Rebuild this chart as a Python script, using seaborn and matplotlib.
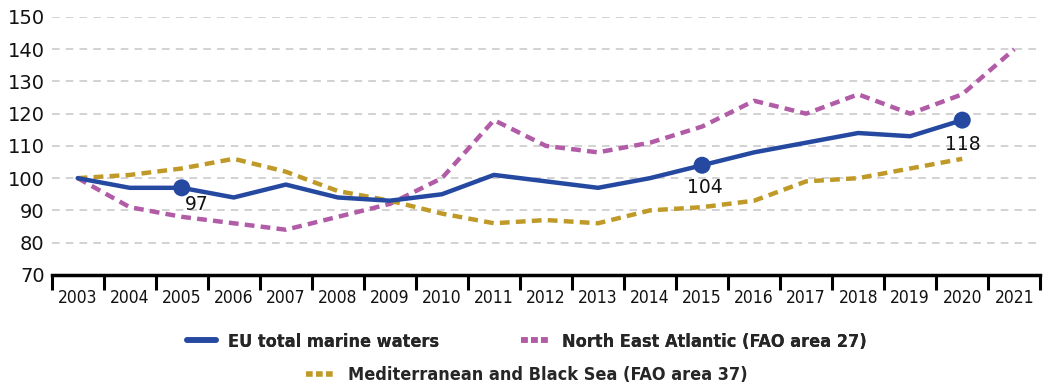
import numpy as np
import pandas as pd
import matplotlib
matplotlib.use("Agg")
import matplotlib.pyplot as plt
import seaborn as sns
from matplotlib.lines import Line2D

years = list(range(2003, 2022))
eu_total = [100, 97, 97, 94, 98, 94, 93, 95, 101, 99, 97, 100, 104, 108, 111, 114, 113, 118]
north_east_atlantic = [100, 91, 88, 86, 84, 88, 92, 100, 118, 110, 108, 111, 116, 124, 120, 126, 120, 126, 140]
med_black_sea = [100, 101, 103, 106, 102, 96, 93, 89, 86, 87, 86, 90, 91, 93, 99, 100, 103, 106]
labelled_years = [2005, 2015, 2020]

names = ["EU total marine waters", "North East Atlantic (FAO area 27)",
         "Mediterranean and Black Sea (FAO area 37)"]
colors = ["#2549a0", "#b25ca7", "#c09a28"]

sns.set_theme(style="white")
plt.rcParams['font.family'] = ['DejaVu Sans']

fig = plt.figure(figsize=(10.54, 3.86), dpi=100)
ax = fig.add_axes([0.049, 0.288, 0.938, 0.668])

# categorical positions
pos = {y: i for i, y in enumerate(years)}

def frame(vals):
    return pd.DataFrame({"x": [pos[y] for y in years[:len(vals)]], "v": vals})

sns.lineplot(data=frame(north_east_atlantic), x="x", y="v", ax=ax, color=colors[1],
             lw=3.2, zorder=2)
ax.lines[-1].set_dashes([2.2, 1.4])
sns.lineplot(data=frame(med_black_sea), x="x", y="v", ax=ax, color=colors[2],
             lw=3.2, zorder=2)
ax.lines[-1].set_dashes([2.2, 1.4])
sns.lineplot(data=frame(eu_total), x="x", y="v", ax=ax, color=colors[0],
             lw=3.2, zorder=3)

eu_df = frame(eu_total)
eu_df["year"] = years[:len(eu_total)]
pts = eu_df[eu_df["year"].isin(labelled_years)]
sns.scatterplot(data=pts, x="x", y="v", ax=ax, color=colors[0], s=150,
                edgecolor="none", zorder=4)
offsets = {2005: (0.28, -5.3), 2015: (0.05, -7), 2020: (0.02, -7.5)}
for _, r in pts.iterrows():
    dx, dy = offsets[int(r["year"])]
    ax.text(r["x"] + dx, r["v"] + dy, f"{int(r['v'])}", ha="center", va="center",
            fontsize=13.5, color="#111111", zorder=5)

ax.set_xlim(-0.5, len(years) - 0.5)
ax.set_ylim(70, 150)
ax.set_yticks(range(70, 151, 10))
ax.set_xticks(range(len(years)))
ax.set_xticklabels([str(y) for y in years], fontsize=12.5, fontstretch="condensed")
ax.set_xticks(np.arange(-0.5, len(years), 1.0), minor=True)
ax.tick_params(axis="x", which="major", bottom=False, length=0, pad=10, colors="#111111")
ax.tick_params(axis="x", which="minor", bottom=True, length=10.5, width=2.2,
               color="black", direction="out")
ax.tick_params(axis="y", length=0, labelsize=14, pad=5, colors="#111111")
ax.set_xlabel("")
ax.set_ylabel("")

for y in range(80, 151, 10):
    ax.axhline(y, color="#c6c6c6", lw=1.1, ls=(0, (5, 4)), zorder=1)

for s in ["top", "right", "left"]:
    ax.spines[s].set_visible(False)
ax.spines["bottom"].set_linewidth(2.5)
ax.spines["bottom"].set_color("black")

h_eu = Line2D([], [], color=colors[0], lw=4, solid_capstyle="round")
h_nea = Line2D([], [], color=colors[1], lw=4, dashes=[1.2, 0.6])
h_med = Line2D([], [], color=colors[2], lw=4, dashes=[1.2, 0.6])
legend_font = {"family": "DejaVu Sans", "weight": "bold", "size": 13, "stretch": "condensed"}

leg1 = fig.legend([h_eu, h_nea], names[:2], loc="center", bbox_to_anchor=(0.5, 0.115),
                  ncol=2, frameon=False, prop=legend_font, handlelength=1.6,
                  columnspacing=4.5, handletextpad=0.7)
fig.add_artist(leg1)
fig.legend([h_med], names[2:], loc="center", bbox_to_anchor=(0.5, 0.028),
           frameon=False, prop=legend_font, handlelength=1.6, handletextpad=0.7)

fig.savefig("out.png", dpi=100)
